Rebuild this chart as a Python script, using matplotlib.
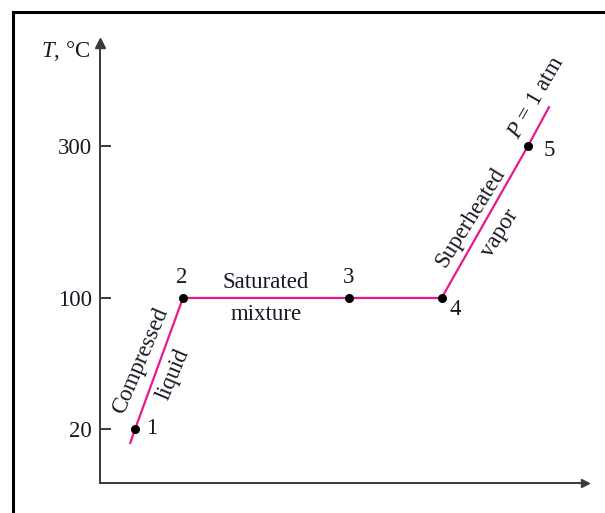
import numpy as np
import matplotlib.pyplot as plt
from matplotlib.lines import Line2D

# T-v diagram of water heated at constant pressure
state_labels = ['1', '2', '3', '4', '5']
state_v = [0.72, 1.70, 5.10, 7.00, 8.77]
state_T = [20, 100, 100, 100, 300]

# process line runs a little past states 1 and 5
line_v = [0.62, 0.72, 1.70, 5.10, 7.00, 8.77, 9.20]
line_T = [11.5, 20, 100, 100, 100, 300, 351]

y_ticks = [20, 100, 300]

# schematic (non-linear) temperature axis
knots_T = np.array([-100, 20, 100, 300, 600])
knots_u = np.array([-142.5, 54, 185, 337, 565])


def fwd(t):
    return np.interp(t, knots_T, knots_u)


def inv(u):
    return np.interp(u, knots_u, knots_T)


plt.rcParams['font.family'] = ['Liberation Serif', 'DejaVu Serif']
plt.rcParams['mathtext.fontset'] = 'custom'
plt.rcParams['mathtext.rm'] = 'Liberation Serif'
plt.rcParams['mathtext.it'] = 'Liberation Serif:italic'

txt_color = '#181822'
axis_color = '#3a3a3a'
pink = '#e8198b'
fs = 16.5

fig = plt.figure(figsize=(6.05, 5.13), dpi=100)
ax = fig.add_axes([100 / 605, 30 / 513, 485 / 605, 440 / 513])
ax.set_yscale('function', functions=(fwd, inv))
ax.set_xlim(0, 10 * 485 / 488)
ax.set_ylim(-13, inv(440))

for side in ['top', 'right']:
    ax.spines[side].set_visible(False)
for side in ['left', 'bottom']:
    ax.spines[side].set_color(axis_color)
    ax.spines[side].set_linewidth(1.4)

# arrow heads on the axes
ax.plot(1, 0, '>', color=axis_color, ms=6, transform=ax.transAxes, clip_on=False)
ax.plot(0, 1, '^', color=axis_color, ms=7, transform=ax.transAxes, clip_on=False)

ax.set_xticks([])
ax.set_yticks(y_ticks)
ax.set_yticklabels([str(t) for t in y_ticks])
ax.yaxis.set_minor_locator(plt.NullLocator())
ax.tick_params(axis='y', direction='in', length=8, width=1.4, color=axis_color,
               labelsize=fs, labelcolor=txt_color, pad=6)

ax.plot(line_v, line_T, color=pink, lw=1.6, zorder=2)
ax.plot(state_v, state_T, 'o', color='black', ms=5.5, zorder=3)

# state numbers
num_offsets = [(8, 0, 'left'), (-1, 15, 'center'), (0, 15, 'center'),
               (10, -8, 'center'), (11, -3, 'left')]
for lab, v, t, (dx, dy, ha) in zip(state_labels, state_v, state_T, num_offsets):
    ax.annotate(lab, (v, t), xytext=(dx, dy), textcoords='offset points',
                ha=ha, va='center', fontsize=fs, color=txt_color)

# region labels, positioned from segment midpoints
def seg_label(text, i, j, dx, dy, rot):
    mv = (line_v[i] + line_v[j]) / 2
    mt = inv((fwd(line_T[i]) + fwd(line_T[j])) / 2)
    ax.annotate(text, (mv, mt), xytext=(dx, dy), textcoords='offset points',
                ha='center', va='center', rotation=rot, rotation_mode='anchor',
                fontsize=fs, color=txt_color)


seg_label('Compressed', 1, 2, -13, 2, 67)
seg_label('liquid', 1, 2, 10, -8, 67)
seg_label('Saturated', 2, 3, 0, 11, 0)
seg_label('mixture', 2, 3, 0, -12, 0)
seg_label('Superheated', 4, 5, -10, 3, 58)
seg_label('vapor', 4, 5, 11, -8, 58)

ax.annotate('$P$ = 1 atm', (line_v[-1], line_T[-1]), xytext=(-9, 7), textcoords='offset points',
            ha='center', va='center', rotation=60, rotation_mode='anchor',
            fontsize=fs, color=txt_color)

ax.annotate('$T$, °C', (0, 1), xycoords='axes fraction', xytext=(-7, -6),
            textcoords='offset points', ha='right', va='center',
            fontsize=fs, color=txt_color)

# page frame
fig.add_artist(Line2D([13 / 605, 1], [1 - 12 / 513, 1 - 12 / 513], color='black', lw=2.2))
fig.add_artist(Line2D([13 / 605, 13 / 605], [0, 1 - 12 / 513], color='black', lw=2.2))

fig.savefig('out.png', dpi=100)
